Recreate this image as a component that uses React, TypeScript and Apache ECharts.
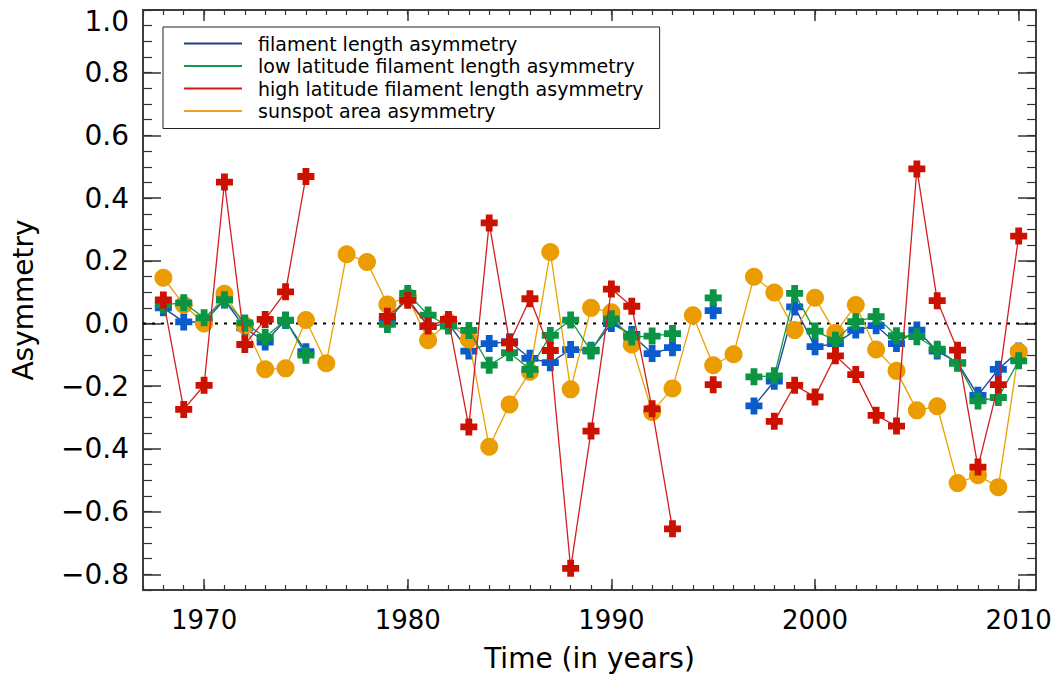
import React, { useEffect, useRef } from "react";
import * as echarts from "echarts";

const years = [
  1968, 1969, 1970, 1971, 1972, 1973, 1974, 1975, 1976, 1977, 1978, 1979, 1980, 1981, 1982,
  1983, 1984, 1985, 1986, 1987, 1988, 1989, 1990, 1991, 1992, 1993, 1994, 1995, 1996, 1997,
  1998, 1999, 2000, 2001, 2002, 2003, 2004, 2005, 2006, 2007, 2008, 2009, 2010,
];

const filamentAsym = [
  0.05, 0.005, 0.005, 0.075, -0.014, -0.059, 0.01, -0.09, null, null, null,
  0.01, 0.08, -0.01, 0.0, -0.088, -0.064, -0.058, -0.111, -0.125, -0.083, -0.085, 0.0, -0.035, -0.096, -0.077,
  null, 0.041, null,
  -0.263, -0.184, 0.053, -0.074, -0.064, -0.021, -0.007, -0.064, -0.021, -0.088, -0.125, -0.229, -0.146, -0.088,
];

const lowLatAsym = [
  0.06, 0.066, 0.018, 0.076, 0.002, -0.044, 0.011, -0.101, null, null, null,
  -0.003, 0.096, 0.027, -0.008, -0.022, -0.133, -0.093, -0.146, -0.038, 0.011, -0.088, 0.015, -0.043, -0.04, -0.032,
  null, 0.082, null,
  -0.17, -0.167, 0.096, -0.024, -0.053, 0.006, 0.022, -0.039, -0.042, -0.082, -0.127, -0.247, -0.236, -0.119,
];

const highLatAsym = [
  0.075, -0.274, -0.197, 0.451, -0.067, 0.013, 0.101, 0.469, null, null, null,
  0.023, 0.074, -0.008, 0.013, -0.33, 0.321, -0.062, 0.079, -0.086, -0.781, -0.343, 0.11, 0.055, -0.272, -0.655,
  null, -0.195, null, null,
  -0.312, -0.197, -0.234, -0.103, -0.163, -0.293, -0.327, 0.493, 0.073, -0.085, -0.458, -0.195, 0.279,
];

const sunspotAsym = [
  0.146, 0.06, 0.0, 0.095, -0.006, -0.146, -0.143, 0.011, -0.127, 0.221,
  0.196, 0.061, 0.085, -0.053, 0.005, -0.051, -0.393, -0.258, -0.154, 0.228,
  -0.21, 0.05, 0.036, -0.067, -0.282, -0.207, 0.026, -0.133, -0.098, 0.149,
  0.099, -0.021, 0.082, -0.03, 0.059, -0.083, -0.151, -0.277, -0.264, -0.509,
  -0.484, -0.522, -0.09,
];

const seriesNames = [
  "filament length asymmetry",
  "low latitude filament length asymmetry",
  "high latitude filament length asymmetry",
  "sunspot area asymmetry",
];

const xMajorTicks = [1970, 1980, 1990, 2000, 2010];
const xMinorTicks = [
  1967, 1968, 1969, 1970, 1971, 1972, 1973, 1974, 1975, 1976, 1977, 1978, 1979, 1980, 1981,
  1982, 1983, 1984, 1985, 1986, 1987, 1988, 1989, 1990, 1991, 1992, 1993, 1994, 1995, 1996,
  1997, 1998, 1999, 2000, 2001, 2002, 2003, 2004, 2005, 2006, 2007, 2008, 2009, 2010,
];
const yMajorTicks = [-0.8, -0.6, -0.4, -0.2, 0.0, 0.2, 0.4, 0.6, 0.8, 1.0];
const yMinorTicks = [
  -0.85, -0.8, -0.75, -0.7, -0.65, -0.6, -0.55, -0.5, -0.45, -0.4, -0.35, -0.3, -0.25, -0.2,
  -0.15, -0.1, -0.05, 0.0, 0.05, 0.1, 0.15, 0.2, 0.25, 0.3, 0.35, 0.4, 0.45, 0.5, 0.55, 0.6,
  0.65, 0.7, 0.75, 0.8, 0.85, 0.9, 0.95, 1.0,
];

const X_MIN = 1967;
const X_MAX = 2010.85;
const Y_MIN = -0.85;
const Y_MAX = 1.0;
const ZERO_LEVEL = 0;

const CROSS = "path://M30,0 H70 V30 H100 V70 H70 V100 H30 V70 H0 V30 H30 Z";
const FONT = "DejaVu Sans";
const AXIS_COLOR = "#333";

function pairs(arr: (number | null)[]) {
  return years.map((y, i) => [y, arr[i] === null ? null : arr[i]]);
}

export default function App() {
  const ref = useRef<HTMLDivElement>(null);

  useEffect(() => {
    if (!ref.current) return;
    const chart = echarts.init(ref.current, undefined, { renderer: "svg" });

    const axisLine = { show: true, onZero: false, lineStyle: { color: AXIS_COLOR, width: 1.5 } };
    const xBase = {
      type: "value",
      min: X_MIN,
      max: X_MAX,
      splitLine: { show: false },
      axisLine,
    };
    const yBase = {
      type: "value",
      min: Y_MIN,
      max: Y_MAX,
      splitLine: { show: false },
      axisLine,
    };

    const option: any = {
      animation: false,
      backgroundColor: "#ffffff",
      grid: { left: 143, right: 26, top: 10, bottom: 97, containLabel: false },
      legend: {
        orient: "vertical",
        left: 163,
        top: 27,
        backgroundColor: "#ffffff",
        borderColor: "#222",
        borderWidth: 1,
        borderRadius: 0,
        padding: [7, 16, 8, 21],
        itemWidth: 58,
        itemHeight: 2,
        itemGap: 3.5,
        icon: "rect",
        textStyle: {
          fontFamily: FONT,
          fontSize: 19,
          color: "#000",
          lineHeight: 19,
          padding: [0, 0, 0, 11],
        },
        data: [
          { name: seriesNames[0], itemStyle: { color: "#1f3c8c" } },
          { name: seriesNames[1], itemStyle: { color: "#149a4a" } },
          { name: seriesNames[2], itemStyle: { color: "#d41a1a" } },
          { name: seriesNames[3], itemStyle: { color: "#f0a020" } },
        ],
        selectedMode: false,
      },
      xAxis: [
        {
          ...xBase,
          position: "bottom",
          axisTick: { show: true, inside: true, length: 11, customValues: xMajorTicks, lineStyle: { color: AXIS_COLOR, width: 1.5 } },
          axisLabel: {
            show: true,
            customValues: xMajorTicks,
            fontFamily: FONT,
            fontSize: 26,
            color: "#000",
            margin: 17,
            formatter: (v: number) => String(Math.round(v)),
          },
          name: "Time (in years)",
          nameLocation: "middle",
          nameGap: 54,
          nameTextStyle: { fontFamily: FONT, fontSize: 28, color: "#000" },
        },
        {
          ...xBase,
          position: "bottom",
          axisTick: { show: true, inside: true, length: 5, customValues: xMinorTicks, lineStyle: { color: AXIS_COLOR, width: 1.2 } },
          axisLabel: { show: false },
        },
        {
          ...xBase,
          position: "top",
          axisTick: { show: true, inside: true, length: 11, customValues: xMajorTicks, lineStyle: { color: AXIS_COLOR, width: 1.5 } },
          axisLabel: { show: false },
        },
        {
          ...xBase,
          position: "top",
          axisTick: { show: true, inside: true, length: 5, customValues: xMinorTicks, lineStyle: { color: AXIS_COLOR, width: 1.2 } },
          axisLabel: { show: false },
        },
      ],
      yAxis: [
        {
          ...yBase,
          position: "left",
          axisTick: { show: true, inside: true, length: 18, customValues: yMajorTicks, lineStyle: { color: AXIS_COLOR, width: 1.5 } },
          axisLabel: {
            show: true,
            customValues: yMajorTicks,
            fontFamily: FONT,
            fontSize: 28,
            color: "#000",
            margin: 14,
            formatter: (v: number) => {
              const s = Math.abs(v).toFixed(1);
              const t = v < -1e-9 ? "\u2212" + s : s;
              return v >= Y_MAX - 1e-9 ? "{top|" + t + "}" : t;
            },
            rich: {
              top: { fontFamily: FONT, fontSize: 28, color: "#000", padding: [22, 0, 0, 0] },
            },
          },
          name: "Asymmetry",
          nameLocation: "middle",
          nameGap: 106,
          nameTextStyle: { fontFamily: FONT, fontSize: 28, color: "#000" },
        },
        {
          ...yBase,
          position: "left",
          axisTick: { show: true, inside: true, length: 9, customValues: yMinorTicks, lineStyle: { color: AXIS_COLOR, width: 1.2 } },
          axisLabel: { show: false },
        },
        {
          ...yBase,
          position: "right",
          axisTick: { show: true, inside: true, length: 18, customValues: yMajorTicks, lineStyle: { color: AXIS_COLOR, width: 1.5 } },
          axisLabel: { show: false },
        },
        {
          ...yBase,
          position: "right",
          axisTick: { show: true, inside: true, length: 9, customValues: yMinorTicks, lineStyle: { color: AXIS_COLOR, width: 1.2 } },
          axisLabel: { show: false },
        },
      ],
      series: [
        {
          name: "zero",
          type: "line",
          xAxisIndex: 0,
          yAxisIndex: 0,
          data: [
            [X_MIN, ZERO_LEVEL],
            [X_MAX, ZERO_LEVEL],
          ],
          symbol: "none",
          silent: true,
          lineStyle: { color: "#000", type: [3, 6], width: 2 },
          z: 1,
        },
        {
          name: seriesNames[0],
          type: "line",
          xAxisIndex: 0,
          yAxisIndex: 0,
          data: pairs(filamentAsym),
          symbol: CROSS,
          symbolSize: 17,
          showAllSymbol: true,
          lineStyle: { color: "#1f4a9c", width: 1.4 },
          itemStyle: { color: "#0a5ccc" },
          z: 2,
        },
        {
          name: seriesNames[3],
          type: "line",
          xAxisIndex: 0,
          yAxisIndex: 0,
          data: pairs(sunspotAsym),
          symbol: "circle",
          symbolSize: 18,
          showAllSymbol: true,
          lineStyle: { color: "#eba000", width: 1.3 },
          itemStyle: { color: "#eb9c00" },
          z: 3,
        },
        {
          name: seriesNames[1],
          type: "line",
          xAxisIndex: 0,
          yAxisIndex: 0,
          data: pairs(lowLatAsym),
          symbol: CROSS,
          symbolSize: 17,
          showAllSymbol: true,
          lineStyle: { color: "#109a4c", width: 1.3 },
          itemStyle: { color: "#0a9444" },
          z: 4,
        },
        {
          name: seriesNames[2],
          type: "line",
          xAxisIndex: 0,
          yAxisIndex: 0,
          data: pairs(highLatAsym),
          symbol: CROSS,
          symbolSize: 17,
          showAllSymbol: true,
          lineStyle: { color: "#d21e1e", width: 1.3 },
          itemStyle: { color: "#cc1100" },
          z: 5,
        },
      ],
    };

    chart.setOption(option);
    return () => {
      chart.dispose();
    };
  }, []);

  return (
    <div
      ref={ref}
      style={{ position: "fixed", left: 0, top: 0, width: 1062, height: 687, background: "#fff" }}
    />
  );
}
